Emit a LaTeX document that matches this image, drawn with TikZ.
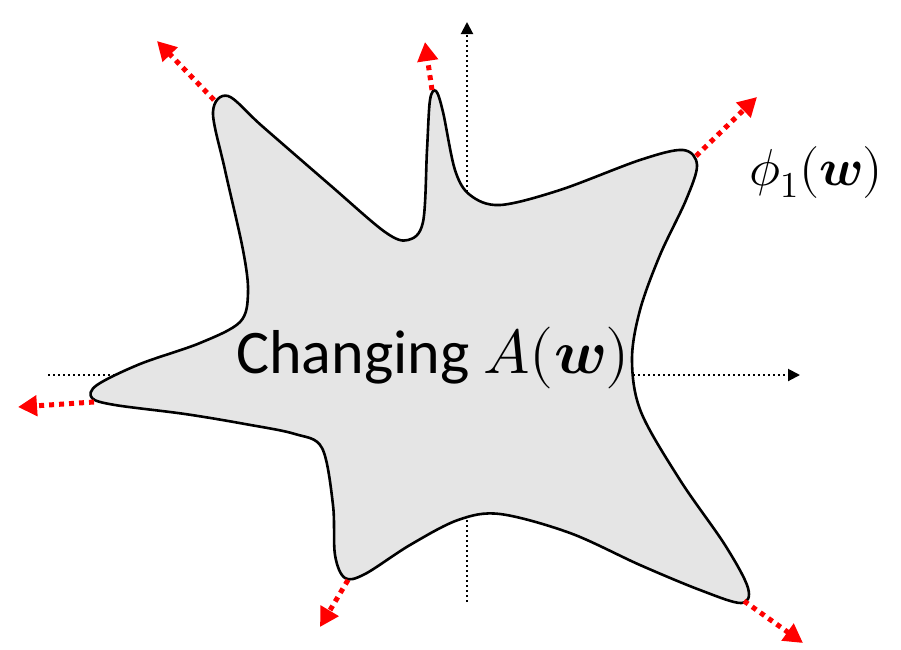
\documentclass[tikz,border=0pt]{standalone}
\usepackage{amsmath}
\usepackage{unicode-math}
\setmainfont{Carlito}
\setmathfont{Latin Modern Math}
\usetikzlibrary{arrows.meta}

\begin{document}
\begin{tikzpicture}[
  x=1pt, y=-1pt,
  axis/.style={line width=2pt, dash pattern=on 2pt off 3pt, -{Triangle[length=12pt,width=12pt]}},
  blob/.style={draw, line width=2.6pt, fill=gray!20},
  push/.style={red, line width=5pt, dash pattern=on 5pt off 5pt, -{Triangle[length=19pt,width=20pt]}}
]
\useasboundingbox (0,0) rectangle (901,649);
% axes
\coordinate (ox) at (48,375);
\coordinate (xend) at (800,375);
\coordinate (oy) at (467,602);
\coordinate (yend) at (467,22);
\draw[axis] (ox) -- (xend);
\draw[axis] (oy) -- (yend);
% the changing region
\draw[blob] plot[smooth cycle, tension=0.55] coordinates {
  (213,112) (228,96) (262,126) (330,185) (385,232) (408,240) (423,222)
  (427,150) (430,100) (436,91) (443,112) (455,170) (470,195) (500,205)
  (560,190) (640,160) (683,150) (697,165) (686,200) (660,255) (640,310)
  (632,360) (641,412) (680,480) (725,545) (748,588) (741,603) (700,590)
  (640,565) (570,533) (500,514) (458,520) (410,545) (365,574) (345,578)
  (335,555) (333,505) (322,448) (295,434) (245,424) (185,414) (115,405)
  (92,398) (97,385) (140,364) (200,343) (240,322) (248,293) (243,250)
  (225,170)};
\node[font=\fontsize{62}{74}\selectfont] (label) at (433,358) {Changing $A(\symbfit{w})$};
\node[font=\fontsize{52}{62}\selectfont, anchor=west] (phi) at (746,172) {$\phi_1(\symbfit{w})$};
% outward motion of the boundary
\coordinate (tl) at (214,100);   \coordinate (tlend) at (157,41);
\coordinate (sp) at (432,90);    \coordinate (spend) at (425,42);
\coordinate (tr) at (696,156);   \coordinate (trend) at (757,97);
\coordinate (br) at (744,601);   \coordinate (brend) at (803,643);
\coordinate (bl) at (348,580);   \coordinate (blend) at (320,627);
\coordinate (lf) at (94,402);    \coordinate (lfend) at (18,407);
\foreach \a/\b in {tl/tlend, sp/spend, tr/trend, br/brend, bl/blend, lf/lfend}
  \draw[push] (\a) -- (\b);
\end{tikzpicture}
\end{document}
